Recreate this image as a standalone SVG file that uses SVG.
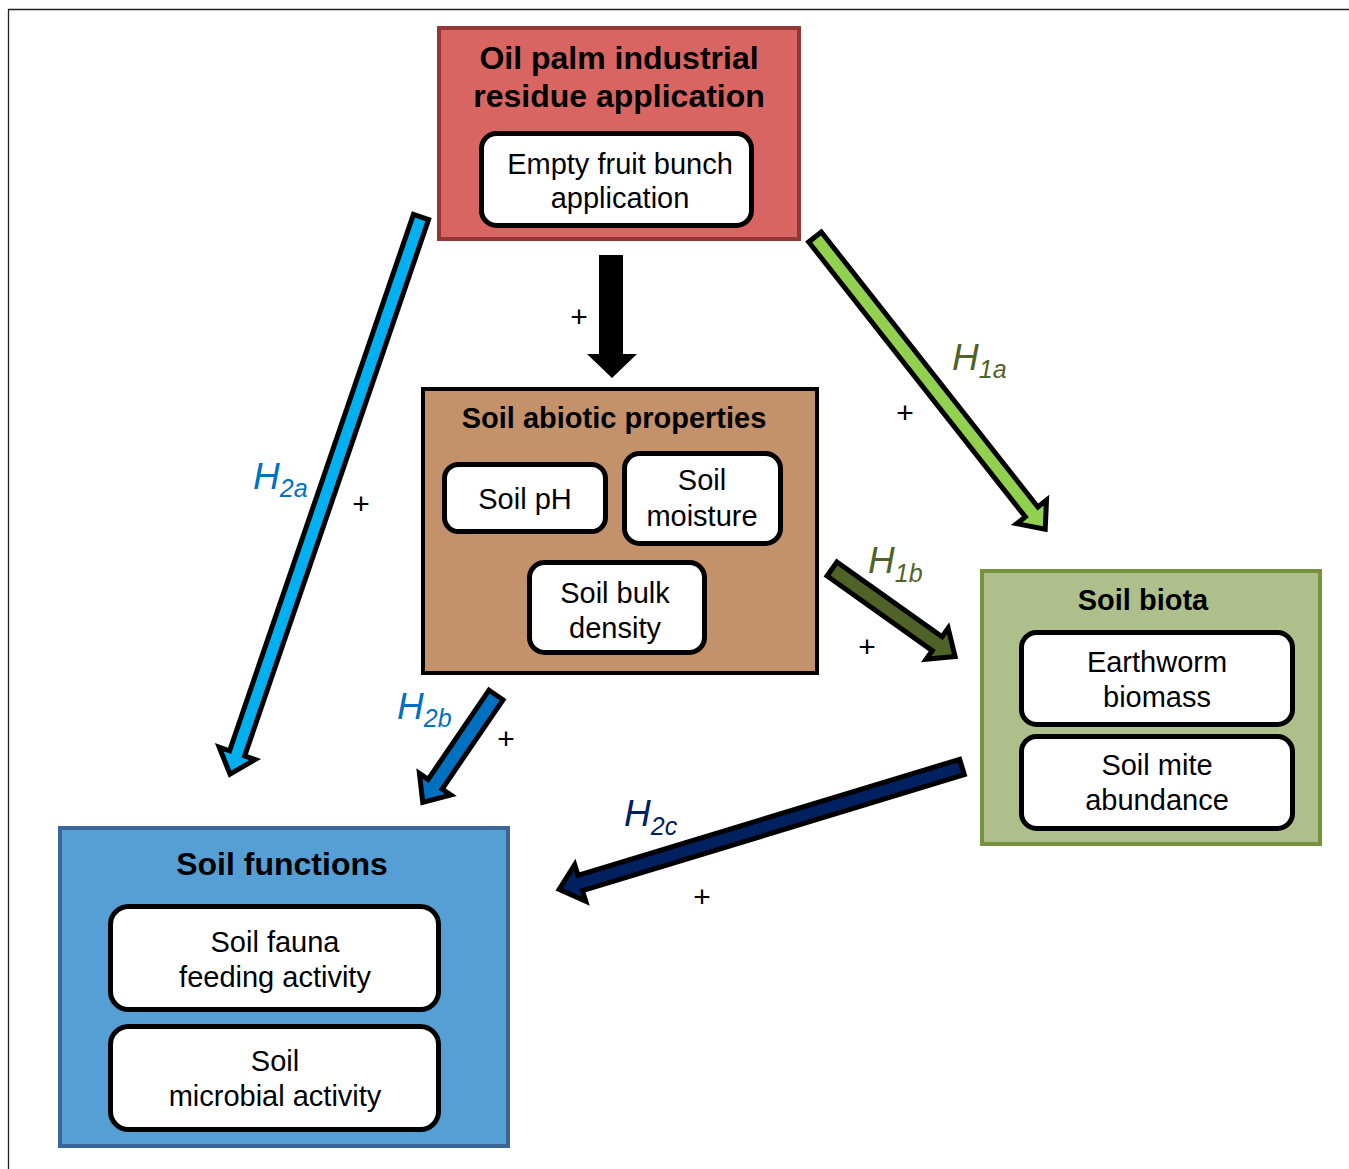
<svg xmlns="http://www.w3.org/2000/svg" width="1349" height="1169" viewBox="0 0 1349 1169">
<style>
text{font-family:"Liberation Sans",Arial,sans-serif;fill:#000}
.t32{font-size:32px;font-weight:bold;text-anchor:middle}
.t29b{font-size:29px;font-weight:bold;text-anchor:middle}
.t{font-size:29px;text-anchor:middle}
.inner{fill:#fff;stroke:#000;stroke-width:5}
.arr{stroke:#000;stroke-width:5;stroke-linejoin:miter;stroke-miterlimit:10}
.h{font-size:37px;font-style:italic}
.s{font-size:25px}
.plus{font-size:30px;text-anchor:middle}
</style>
<defs>
<polygon id="a589" points="0,-8 567,-8 567,-19 589,0 567,19 567,8 0,8"/>
</defs>
<rect x="0" y="0" width="1349" height="1169" fill="#fff"/>
<path d="M8.5,1169 V9.5 H1349" fill="none" stroke="#222" stroke-width="1.3"/>

<g id="residue">
<rect x="439" y="28" width="360" height="211" fill="#D96562" stroke="#953735" stroke-width="4"/>
<text class="t32" x="619" y="69">Oil palm industrial</text>
<text class="t32" x="619" y="107">residue application</text>
<g id="efb">
<rect class="inner" x="481.5" y="133.5" width="270" height="92" rx="15"/>
<text class="t" x="620" y="174">Empty fruit bunch</text>
<text class="t" x="620" y="208">application</text>
</g>
</g>

<g id="abiotic">
<rect x="423" y="389" width="394" height="284" fill="#C3916A" stroke="#000" stroke-width="4"/>
<text class="t29b" x="614" y="428">Soil abiotic properties</text>
<g id="ph">
<rect class="inner" x="444.5" y="464.5" width="161" height="67" rx="14"/>
<text class="t" x="525" y="509">Soil pH</text>
</g>
<g id="moisture">
<rect class="inner" x="624.5" y="453.5" width="156" height="90" rx="15"/>
<text class="t" x="702" y="490">Soil</text>
<text class="t" x="702" y="526">moisture</text>
</g>
<g id="bulk">
<rect class="inner" x="529.5" y="562.5" width="175" height="90" rx="15"/>
<text class="t" x="615" y="603">Soil bulk</text>
<text class="t" x="615" y="638">density</text>
</g>
</g>

<g id="biota">
<rect x="982" y="571" width="338" height="273" fill="#AEBF8C" stroke="#76923C" stroke-width="4"/>
<text class="t29b" x="1143" y="610">Soil biota</text>
<g id="earthworm">
<rect class="inner" x="1021.5" y="632.5" width="271" height="92" rx="15"/>
<text class="t" x="1157" y="672">Earthworm</text>
<text class="t" x="1157" y="707">biomass</text>
</g>
<g id="mite">
<rect class="inner" x="1021.5" y="736.5" width="271" height="92" rx="15"/>
<text class="t" x="1157" y="775">Soil mite</text>
<text class="t" x="1157" y="810">abundance</text>
</g>
</g>

<g id="functions">
<rect x="60" y="828" width="448" height="318" fill="#559FD5" stroke="#3A6596" stroke-width="4"/>
<text class="t32" x="282" y="875">Soil functions</text>
<g id="fauna">
<rect class="inner" x="110.5" y="906.5" width="328" height="103" rx="18"/>
<text class="t" x="275" y="952">Soil fauna</text>
<text class="t" x="275" y="987">feeding activity</text>
</g>
<g id="microbial">
<rect class="inner" x="110.5" y="1026.5" width="328" height="103" rx="18"/>
<text class="t" x="275" y="1071">Soil</text>
<text class="t" x="275" y="1106">microbial activity</text>
</g>
</g>

<g id="connectors">
<polygon points="599,255 623,255 623,354 637,354 612,378 587,354 599,354" fill="#000"/>
<g class="arr">
<polygon fill="#00B0F0" transform="translate(421,217) rotate(108.92)" points="0,-8 567,-8 567,-19 589,0 567,19 567,8 0,8"/>
<polygon fill="#92D050" transform="translate(815,237) rotate(51.77)" points="0,-8 350,-8 350,-19 372,0 350,19 350,8 0,8"/>
<polygon fill="#4F6228" transform="translate(832,569) rotate(35.4)" points="0,-8.5 129,-8.5 129,-19 151,0 129,19 129,8.5 0,8.5"/>
<polygon fill="#0070C0" transform="translate(496,695) rotate(124.3)" points="0,-8.5 108,-8.5 108,-19 130,0 108,19 108,8.5 0,8.5"/>
<polygon fill="#002060" transform="translate(962,767) rotate(163.1)" points="0,-8 399,-8 399,-19 421,0 399,19 399,8 0,8"/>
</g>
<text class="plus" x="579" y="327">+</text>
<text class="plus" x="905" y="423">+</text>
<text class="plus" x="361" y="514">+</text>
<text class="plus" x="867" y="657">+</text>
<text class="plus" x="506" y="749">+</text>
<text class="plus" x="702" y="907">+</text>
<text class="h" x="952" y="370" fill="#4F6228" style="fill:#4F6228">H<tspan class="s" dy="8">1a</tspan></text>
<text class="h" x="868" y="573" style="fill:#4F6228">H<tspan class="s" dy="9">1b</tspan></text>
<text class="h" x="253" y="489" style="fill:#0070C0">H<tspan class="s" dy="8">2a</tspan></text>
<text class="h" x="397" y="719" style="fill:#0070C0">H<tspan class="s" dy="8">2b</tspan></text>
<text class="h" x="624" y="826" style="fill:#002060">H<tspan class="s" dy="9">2c</tspan></text>
</g>
</svg>
